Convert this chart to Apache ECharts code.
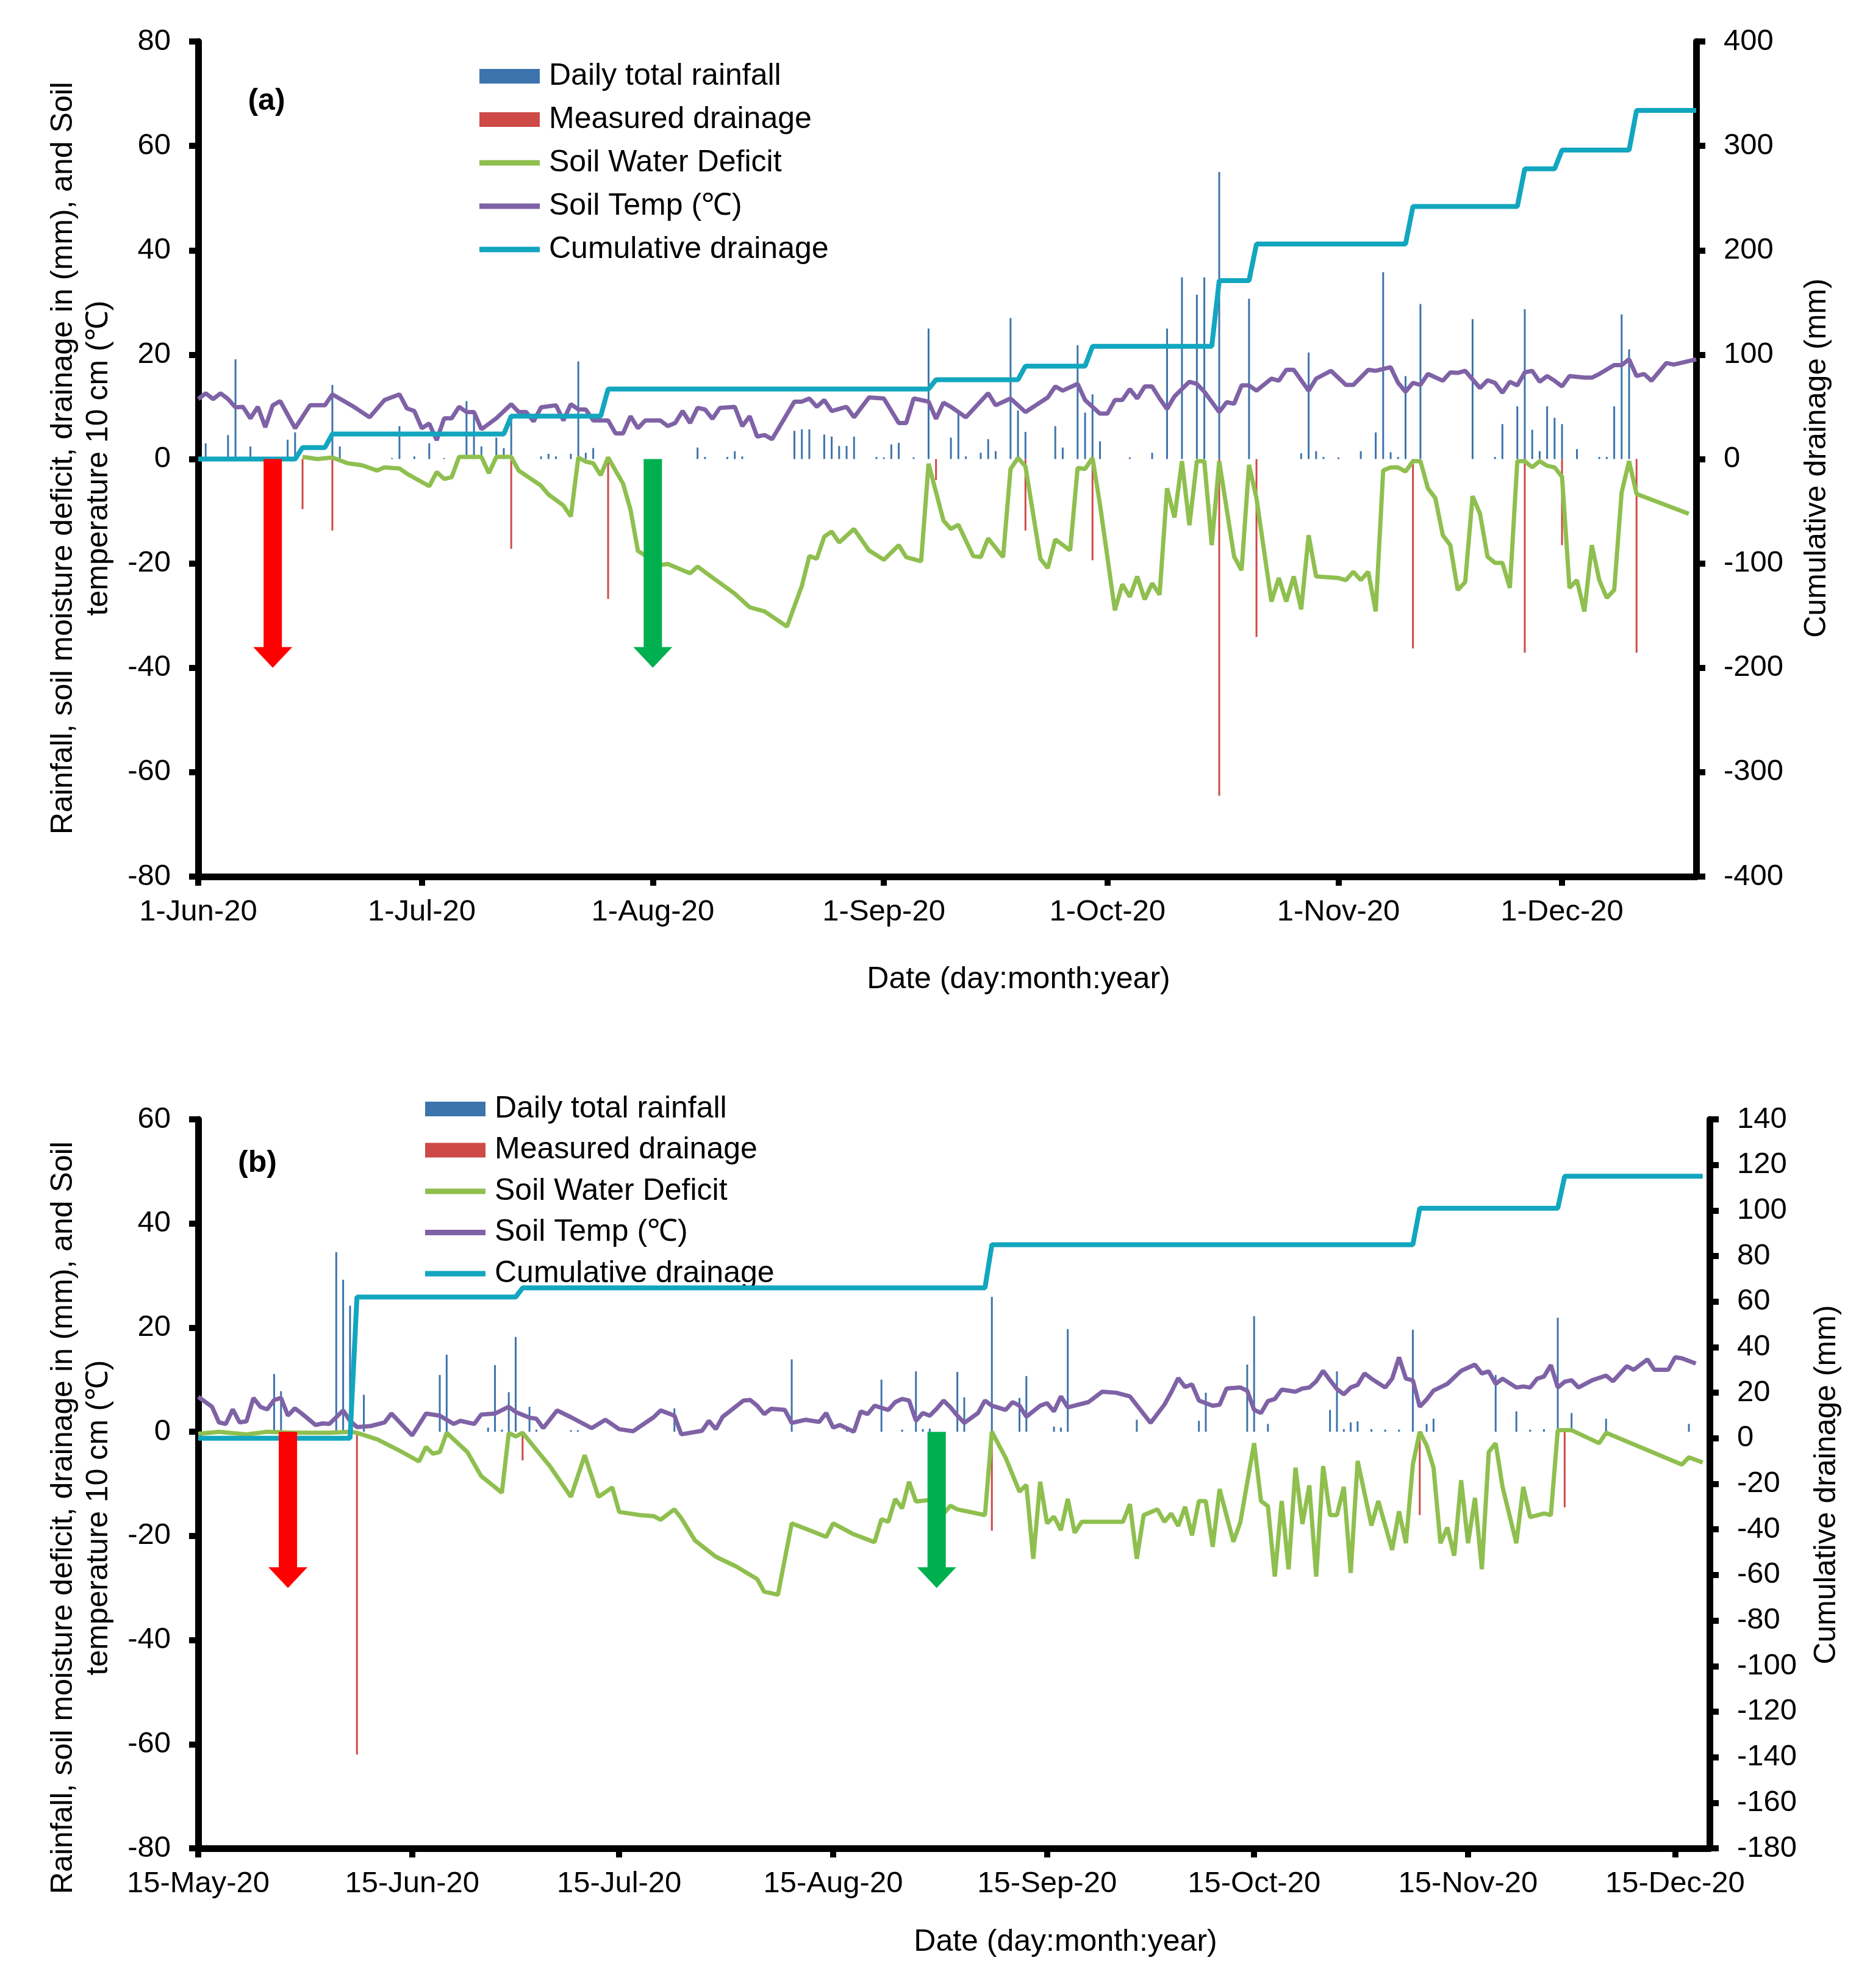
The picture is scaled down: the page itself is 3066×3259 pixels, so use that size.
<!DOCTYPE html>
<html><head><meta charset="utf-8">
<script src="https://cdn.jsdelivr.net/npm/echarts@6/dist/echarts.min.js"></script>
<style>html,body{margin:0;padding:0;background:#fff}#c{width:3066px;height:3259px}</style>
</head><body><div id="c"></div>
<script>
// ---------- Panel (a): day index 0 = 1-Jun-20 ----------
const TICKS_A = ['1-Jun-20','1-Jul-20','1-Aug-20','1-Sep-20','1-Oct-20','1-Nov-20','1-Dec-20'];
const RAIN_A = [[1,3.0],[4,4.6],[5,19.1],[7,2.4],[12,3.7],[13,5.1],[18,14.2],[19,2.4],[26,0.2],[27,6.3],[29,0.5],[31,3.0],[33,0.2],[36,11.1],[37,9.1],[38,2.4],[40,4.1],[41,2.1],[42,8.5],[46,0.5],[47,1],[48,0.5],[50,1],[51,18.7],[52,1.2],[53,2.1],
[67,2.2],[68,0.4],[71,0.4],[72,1.5],[73,0.5],[80,5.4],[81,5.7],[82,5.7],[84,4.7],[85,4.3],[86,2.5],[87,2.5],[88,4.3],[91,0.4],[92,0.3],[93,2.8],[94,3.1],[96,0.3],[98,25],[101,4.1],[102,8.8],[103,0.5],[105,1.2],[106,3.8],[107,1.5],[109,27],[110,9.3],[111,5.2],[115,6.3],[116,2.2],[118,21.8],[119,8.9],[120,12.4],[121,3.4],[125,0.3],[128,1.2],
[130,25],[132,34.8],[134,31.5],[135,34.8],[137,55],[141,30.7],[148,1.1],[149,20.4],[150,1.5],[151,0.4],[153,0.3],[156,1.5],[158,5.1],[159,35.8],[160,1.3],[161,0.4],[162,15.9],[164,29.7],[171,26.8],[174,0.4],[175,6.7],[177,10.1],[178,28.7],[179,5.6],[180,1.5],[181,10.1],[182,7.9],[183,6.7],[185,1.9],[188,0.4],[189,0.4],[190,10.1],[191,27.7],[192,21]];
const DRAIN_A = [[14,-9.6],[18,-13.7],[42,-17.2],[55,-26.8],[99,-4],[111,-13.7],[120,-19.4],[137,-64.5],[142,-34.1],[163,-36.3],[178,-37.1],[183,-16.5],[193,-37.1]];
const SWD_A = [[14,0.4],[16,0],[18,0.3],[20,-0.8],[22,-1.2],[24,-2.2],[25,-1.6],[27,-1.8],[28,-2.8],[31,-5.2],[32,-2.5],[33,-3.8],[34,-3.5],[35,0.4],[38,0.4],[39,-2.7],[40,0.4],[42,0.4],[43,-2.2],[46,-5.1],[47,-6.8],[49,-8.9],[50,-11],[51,0.3],[52,-0.5],[53,-0.8],[54,-3.1],[55,0.3],[57,-4.7],[58,-9.7],[59,-17.6],[62,-20.3],[63,-20.1],[66,-21.9],[67,-20.6],[69,-22.7],[72,-25.8],[74,-28.4],[76,-29.2],[79,-32.1],[81,-24.3],[82,-18.6],[83,-19.1],[84,-14.9],[85,-13.9],[86,-16],[88,-13.4],[90,-17.5],[92,-19.3],[94,-16.5],[95,-18.8],[97,-19.6],[98,-0.9],[100,-11.8],[101,-13.4],[102,-12.6],[104,-18.6],[105,-18.8],[106,-15.2],[108,-18.8],[109,-1.9],[110,0.2],[111,-1.4],[113,-19.1],[114,-20.9],[115,-15.4],[117,-17.5],[118,-1.7],[119,-1.9],[120,0.2],[121,-8.7],[123,-29],[124,-24],[125,-26.4],[126,-22.5],[127,-26.9],[128,-23.8],[129,-26],[130,-5.6],[131,-11.2],[132,-0.4],[133,-12.7],[134,-0.4],[135,-0.4],[136,-16.5],[137,-0.4],[139,-18.7],[140,-21.3],[141,-1.1],[142,-7.5],[144,-27.3],[145,-22.8],[146,-27.3],[147,-22.5],[148,-28.8],[149,-14.6],[150,-22.5],[153,-22.8],[154,-23.2],[155,-21.6],[156,-23.2],[157,-21.6],[158,-29.2],[159,-2.2],[160,-1.6],[161,-1.6],[162,-2.4],[163,-0.4],[164,-0.4],[165,-5.6],[166,-7.5],[167,-14.6],[168,-16.5],[169,-25.1],[170,-23.6],[171,-7.1],[172,-10.5],[173,-18.7],[174,-19.9],[175,-19.9],[176,-24.7],[177,-0.4],[178,-0.4],[179,-1.6],[180,-0.4],[181,-1.3],[182,-1.6],[183,-3.4],[184,-24.7],[185,-23.2],[186,-29.2],[187,-16.5],[188,-23.2],[189,-26.6],[190,-25.1],[191,-6.4],[192,-0.4],[193,-6.7],[200,-10.5]];
const TEMP_A = [[0,11.5],[1,12.6],[2,11.5],[3,12.6],[4,11.5],[5,9.9],[6,10],[7,7.8],[8,10],[9,6.1],[10,10.3],[11,11.1],[13,5.9],[15,10.3],[17,10.3],[18,12.4],[21,9.9],[23,8],[25,11.3],[27,12.4],[28,9.7],[29,9.2],[30,5.9],[31,6.8],[32,3.6],[33,7.8],[34,7.8],[35,10],[36,9],[37,9],[38,5.7],[40,7.8],[42,10.5],[43,9],[44,9],[45,7.2],[46,9.9],[48,10.3],[49,7.4],[50,10.5],[51,9.5],[52,9.5],[53,7.4],[55,7.4],[56,4.9],[57,4.9],[58,8.2],[59,5.9],[60,7.4],[62,7.4],[63,6.3],[64,6.9],[65,9.2],[66,6.9],[67,9.8],[68,9.5],[69,7.7],[70,9.8],[72,10],[73,6.3],[74,8.2],[75,4.3],[76,4.6],[77,3.8],[80,11],[81,11],[82,11.6],[83,10],[84,11.3],[85,9.2],[87,10],[88,8],[90,11.8],[92,11.6],[94,6.9],[95,6.9],[96,11.6],[98,11],[99,7.7],[100,10.8],[101,10],[103,8],[106,12.6],[107,10.3],[109,11.6],[111,9],[114,11.8],[115,13.9],[116,13.1],[118,14.4],[119,11.3],[121,8.7],[122,8.7],[123,11.3],[124,11.3],[125,13.4],[126,11.6],[127,13.9],[128,13.9],[129,11.6],[130,9.6],[131,12],[133,14.8],[134,14.4],[135,12.9],[137,9],[138,10.9],[139,10.6],[140,14.1],[141,14.1],[142,13.1],[144,15.4],[145,15],[146,17.1],[147,17.1],[149,13.1],[150,15.4],[152,16.9],[154,14.2],[155,14.2],[157,17.1],[158,16.9],[160,17.6],[161,14.6],[162,12.9],[163,14.6],[164,14.2],[165,16.3],[167,15],[168,16.6],[169,16.5],[170,16.9],[172,13.6],[173,15.1],[174,14.6],[175,12.7],[176,14.8],[177,14.1],[178,16.6],[179,16.9],[180,14.8],[181,15.9],[182,15],[183,13.9],[184,15.9],[186,15.6],[187,15.6],[188,16.3],[190,18],[191,18],[192,19.1],[193,15.9],[194,16.3],[195,15],[197,18.4],[198,18.1],[201,19.1]];
const CUM_A = [[0,0],[13,0],[14,11],[17,11],[18,24],[41,24],[42,41],[54,41],[55,67],[98,67],[99,76],[110,76],[111,89],[119,89],[120,108],[136,108],[137,171],[141,171],[142,206],[162,206],[163,242],[177,242],[178,278],[182,278],[183,296],[192,296],[193,334],[201,334]];
const ARROWS_A = [[10,-40],[61,-40]];

// ---------- Panel (b): day index 0 = 15-May-20 ----------
const TICKS_B = ['15-May-20','15-Jun-20','15-Jul-20','15-Aug-20','15-Sep-20','15-Oct-20','15-Nov-20','15-Dec-20'];
const RAIN_B = [[11,11.1],[12,7.8],[20,34.5],[21,29.2],[22,24.2],[24,7.1],[35,10.9],[36,14.8],[42,0.8],[43,12.8],[44,0.4],[45,7.6],[46,18.2],[48,4.8],[49,0.4],[54,0.3],[55,0.3],[69,4.5],[86,13.9],[94,0.3],[99,10],[102,0.4],[104,11.6],[105,0.5],[106,0.6],[110,11.5],[111,6.6],[115,25.9],[119,6.5],[120,10.7],[124,1],[125,0.8],[126,19.7],[136,2.3],[145,2.1],[146,7.5],[152,12.9],[153,22.2],[155,1.5],[164,4.2],[165,11.6],[166,0.5],[167,1.8],[168,2],[170,0.5],[172,0.4],[174,0.4],[176,19.6],[178,1.5],[179,2.5],[188,10.9],[191,3.9],[193,0.4],[195,0.5],[197,21.9],[199,3.6],[204,2.5],[216,1.5]];
const DRAIN_B = [[23,-62],[47,-5.5],[115,-19],[177,-16],[198,-14.5]];
const SWD_B = [[0,-0.4],[3,0],[7,-0.5],[10,0],[14,-0.2],[19,-0.2],[22,0],[23,-0.2],[26,-1.5],[29,-3.5],[32,-5.7],[33,-2.9],[34,-4.2],[35,-3.9],[36,-0.2],[39,-3.9],[41,-8.5],[44,-11.7],[45,-0.2],[46,-0.9],[47,-0.2],[51,-6.7],[54,-12.5],[56,-4.5],[58,-12.5],[60,-10.7],[61,-15.4],[64,-16],[66,-16.2],[67,-16.9],[69,-14.9],[70,-16.6],[72,-20.9],[75,-24],[78,-25.9],[81,-28.3],[82,-30.7],[84,-31.3],[86,-17.6],[88,-18.6],[91,-20.2],[92,-17.6],[95,-19.7],[98,-21.2],[99,-16.8],[100,-17.3],[101,-12.9],[102,-14.7],[103,-9.6],[104,-13.4],[106,-13.1],[108,-15.7],[109,-14.2],[110,-14.9],[114,-16],[115,0],[117,-5],[119,-11.5],[120,-10.2],[121,-24.4],[122,-9.6],[123,-17.6],[124,-16.3],[125,-18.9],[126,-12.9],[127,-19.4],[128,-17.3],[134,-17.3],[135,-13.9],[136,-24.4],[137,-16],[139,-14.9],[140,-17.3],[141,-15.7],[142,-18.1],[143,-14.4],[144,-19.9],[145,-13.3],[146,-13.3],[147,-22.1],[148,-11],[150,-21.1],[151,-17.4],[153,-2.2],[154,-13.3],[155,-14.3],[156,-27.8],[157,-13.3],[158,-26.4],[159,-6.9],[160,-17.7],[161,-10.3],[162,-27.8],[163,-6.6],[164,-16],[165,-16],[166,-10.6],[167,-27.1],[168,-5.6],[170,-18],[171,-13.3],[173,-22.7],[174,-15.3],[175,-21.4],[176,-6.3],[177,0],[178,-2.6],[179,-6.9],[180,-21.4],[181,-18.4],[182,-23.8],[183,-9.3],[184,-21.4],[185,-12.7],[186,-26.4],[187,-3.9],[188,-2.2],[189,-10.6],[191,-21.4],[192,-10.6],[193,-16.4],[195,-15.7],[196,-16],[197,0.3],[199,0.3],[203,-2.2],[204,-0.2],[215,-6.3],[216,-4.9],[218,-5.9]];
const TEMP_B = [[0,6.7],[2,4.8],[3,1.8],[4,1.5],[5,4.3],[6,1.8],[7,2],[8,6.5],[9,4.8],[10,4.3],[11,6.1],[12,6.5],[13,3.1],[14,4.5],[15,3.5],[17,1.3],[18,1.6],[19,1.5],[21,4.1],[22,2.1],[23,0.9],[25,1.1],[27,1.8],[28,3.5],[31,-0.7],[33,3.5],[35,3.1],[37,1.5],[38,2.1],[40,1.5],[41,3.3],[43,3.5],[45,4.8],[46,3.8],[48,2.7],[49,2.5],[50,0.7],[52,4.1],[54,2.8],[57,0.7],[59,2.3],[61,0.5],[63,0.1],[66,2.8],[67,4.1],[69,3.1],[70,-0.5],[73,0.2],[74,2.1],[75,0.5],[76,2.9],[77,3.9],[79,6],[80,6.1],[81,5],[82,3.4],[83,4.4],[85,4.2],[86,1.7],[88,2.3],[90,1.9],[91,3.6],[92,0.8],[93,1.3],[95,0],[96,3.9],[97,3.4],[98,5],[100,4.2],[101,5.7],[102,6.3],[103,6],[104,2.1],[105,3.6],[106,3.1],[107,4.4],[108,6],[109,4.7],[110,3.1],[111,1.7],[113,3.6],[114,6],[115,5],[117,4.2],[118,5.7],[119,5],[120,2.9],[122,5],[123,5.5],[124,3.9],[125,6.8],[126,4.7],[129,5.7],[131,7.7],[133,7.5],[135,6.8],[137,3.4],[138,1.7],[140,5.2],[141,7.6],[142,10.3],[143,8.6],[144,9.1],[145,6],[147,5],[148,5.2],[149,8.3],[151,8.5],[152,7.9],[153,4.2],[154,3.6],[155,5.9],[156,6.3],[157,8.1],[159,7.7],[160,8.3],[161,8.5],[162,9.7],[163,11.7],[164,9.9],[165,8.2],[166,7.2],[167,8.5],[168,9],[169,11.2],[170,10.2],[172,8.5],[173,10.2],[174,14.3],[175,10.2],[176,9.9],[177,4.8],[178,6.2],[179,7.9],[181,9.2],[183,11.7],[185,12.9],[186,11.2],[187,11.6],[188,9.2],[189,10.2],[191,8.5],[192,8.7],[193,8.5],[194,10.2],[195,10.6],[196,12.8],[197,8.5],[198,9.6],[199,9.9],[200,8.5],[202,9.9],[204,10.8],[205,9.7],[207,12.6],[208,11.9],[210,13.9],[211,11.9],[213,11.9],[214,14.3],[215,14.1],[217,13.1]];
const CUM_B = [[0,0],[22,0],[23,62],[46,62],[47,66],[114,66],[115,85],[176,85],[177,101],[197,101],[198,115],[218,115]];
const ARROWS_B = [[13,-30],[107,-30]];

const ARROW_COLORS = ['#ff0000', '#00b050'];
const NAMES = ['Daily total rainfall','Measured drainage','Soil Water Deficit','Soil Temp (\u2103)','Cumulative drainage'];

// category labels: one per day
function buildDays(y, m, d, n) {
  const mon = ['Jan','Feb','Mar','Apr','May','Jun','Jul','Aug','Sep','Oct','Nov','Dec'];
  const out = [];
  for (let i = 0; i < n; i++) {
    const dt = new Date(Date.UTC(y, m - 1, d + i));
    out.push(dt.getUTCDate() + '-' + mon[dt.getUTCMonth()] + '-' + String(dt.getUTCFullYear()).slice(2));
  }
  return out;
}
const DAYS_A = buildDays(2020, 6, 1, 202);
const DAYS_B = buildDays(2020, 5, 15, 220);

const FONT = '"Liberation Sans", Arial, sans-serif';
const C_RAIN = '#3d74ad', C_DRAIN = '#cd4a47', C_SWD = '#8fbf4f', C_TEMP = '#7f62a6', C_CUM = '#12a6bf';

function xAxis(grid, days, ticks) {
  const f = (i, v) => ticks.indexOf(v) >= 0;
  return {
    type: 'category', gridIndex: grid, data: days, boundaryGap: false,
    axisLine: { onZero: false, lineStyle: { color: '#000', width: 11 } },
    axisTick: { show: true, length: 15, interval: f, lineStyle: { color: '#000', width: 10 } },
    axisLabel: { interval: f, fontSize: 49, color: '#000', fontFamily: FONT, margin: 34, hideOverlap: false },
    splitLine: { show: false }
  };
}
function yAxis(grid, pos, min, max, step) {
  return {
    type: 'value', gridIndex: grid, position: pos, min: min, max: max, interval: step,
    axisLine: { show: true, onZero: false, lineStyle: { color: '#000', width: 11 } },
    axisTick: { show: true, length: 15, lineStyle: { color: '#000', width: 10 } },
    axisLabel: { fontSize: 49, color: '#000', fontFamily: FONT, margin: 45 },
    splitLine: { show: false }
  };
}
function arrowRender(colors) {
  return function (params, api) {
    const x = api.value(0), tv = api.value(1);
    const top = api.coord([x, 0]);
    const tip = api.coord([x, tv]);
    const sw = 15, hw = 32, hl = 34;
    const hy = tip[1] - hl;
    return {
      type: 'polygon',
      shape: { points: [[top[0] - sw, top[1]], [top[0] + sw, top[1]], [top[0] + sw, hy], [top[0] + hw, hy], [tip[0], tip[1]], [top[0] - hw, hy], [top[0] - sw, hy]] },
      style: { fill: colors[params.dataIndex] }
    };
  };
}
function panelSeries(xi, yl, yr, rain, drain, swd, temp, cum, arrows) {
  return [
    { name: NAMES[0], type: 'bar', xAxisIndex: xi, yAxisIndex: yl, data: rain, barWidth: 3, barGap: '-100%', itemStyle: { color: C_RAIN }, z: 2 },
    { name: NAMES[1], type: 'bar', xAxisIndex: xi, yAxisIndex: yl, data: drain, barWidth: 3, barGap: '-100%', itemStyle: { color: C_DRAIN }, z: 2 },
    { name: NAMES[2], type: 'line', xAxisIndex: xi, yAxisIndex: yl, data: swd, symbol: 'none', lineStyle: { color: C_SWD, width: 7 }, itemStyle: { color: C_SWD }, z: 3 },
    { name: NAMES[3], type: 'line', xAxisIndex: xi, yAxisIndex: yl, data: temp, symbol: 'none', lineStyle: { color: C_TEMP, width: 7 }, itemStyle: { color: C_TEMP }, z: 4 },
    { name: NAMES[4], type: 'line', xAxisIndex: xi, yAxisIndex: yr, data: cum, symbol: 'none', lineStyle: { color: C_CUM, width: 8 }, itemStyle: { color: C_CUM }, z: 5 },
    { type: 'custom', xAxisIndex: xi, yAxisIndex: yl, data: arrows, renderItem: arrowRender(ARROW_COLORS), z: 6, silent: true }
  ];
}
const LINE_ICON = 'path://M0,0H100V9H0Z';
function legend(left, top, gap) {
  return {
    orient: 'vertical', left: left, top: top, padding: 0, itemWidth: 99, itemHeight: 24, itemGap: gap,
    selectedMode: false, symbolKeepAspect: true,
    textStyle: { fontSize: 50, lineHeight: 50, color: '#000', fontFamily: FONT, padding: [0, 0, 0, 10] },
    data: [
      { name: NAMES[0], icon: 'rect' }, { name: NAMES[1], icon: 'rect' },
      { name: NAMES[2], icon: LINE_ICON }, { name: NAMES[3], icon: LINE_ICON }, { name: NAMES[4], icon: LINE_ICON }
    ]
  };
}
function txt(x, y, s, rot, bold) {
  return {
    type: 'text', x: x, y: y, rotation: rot || 0, silent: true,
    style: { text: s, fontSize: 50, fontFamily: FONT, fontWeight: bold ? 'bold' : 'normal', fill: '#000',
      textAlign: 'center', textVerticalAlign: 'middle', align: 'center', verticalAlign: 'middle' }
  };
}
const R = Math.PI / 2;
const option = {
  backgroundColor: '#fff',
  animation: false,
  grid: [
    { left: 325, top: 68, width: 2456, height: 1369, containLabel: false, outerBoundsMode: 'none' },
    { left: 325, top: 1835, width: 2478, height: 1195, containLabel: false, outerBoundsMode: 'none' }
  ],
  xAxis: [xAxis(0, DAYS_A, TICKS_A), xAxis(1, DAYS_B, TICKS_B)],
  yAxis: [yAxis(0, 'left', -80, 80, 20), yAxis(0, 'right', -400, 400, 100), yAxis(1, 'left', -80, 60, 20), yAxis(1, 'right', -180, 140, 20)],
  legend: [legend(786, 100, 21), legend(697, 1793, 17.5)],
  series: [].concat(
    panelSeries(0, 0, 1, RAIN_A, DRAIN_A, SWD_A, TEMP_A, CUM_A, ARROWS_A),
    panelSeries(1, 2, 3, RAIN_B, DRAIN_B, SWD_B, TEMP_B, CUM_B, ARROWS_B)
  ),
  graphic: [
    txt(437, 166, '(a)', 0, true),
    txt(422, 1907, '(b)', 0, true),
    txt(104, 751, 'Rainfall, soil moisture deficit, drainage in (mm), and Soil', R),
    txt(162, 751, 'temperature 10 cm (\u2103)', R),
    txt(2979, 751, 'Cumulative drainage (mm)', R),
    txt(1670, 1606, 'Date (day:month:year)', 0),
    txt(104, 2488, 'Rainfall, soil moisture deficit, drainage in (mm), and Soil', R),
    txt(162, 2488, 'temperature 10 cm (\u2103)', R),
    txt(2995, 2434, 'Cumulative drainage (mm)', R),
    txt(1747, 3184, 'Date (day:month:year)', 0)
  ]
};
const chart = echarts.init(document.getElementById('c'), null, { renderer: 'canvas' });
chart.setOption(option);
</script></body></html>
